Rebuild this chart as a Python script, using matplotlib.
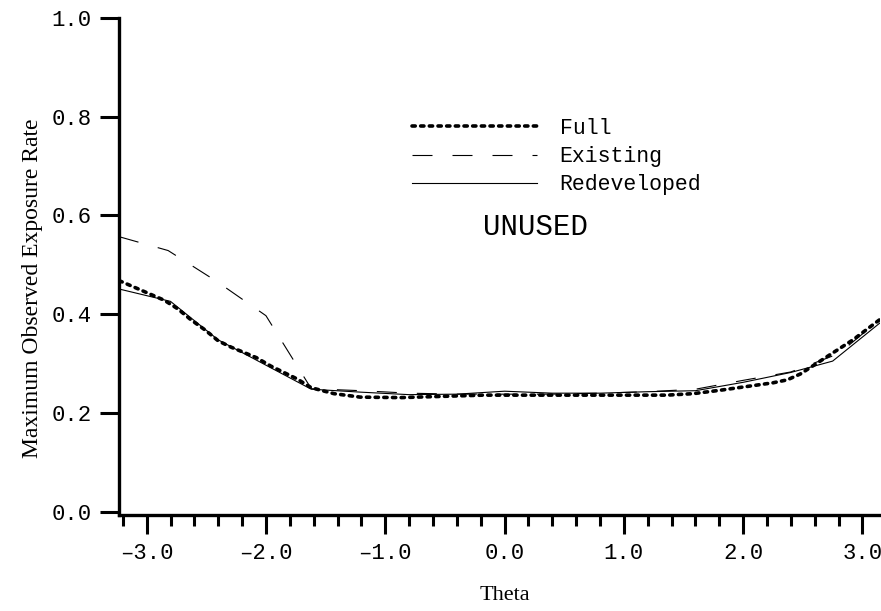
import matplotlib
matplotlib.use("Agg")
import matplotlib.pyplot as plt
from matplotlib.ticker import MultipleLocator

# values
full_theta = [-3.23, -2.85, -2.74, -2.63, -2.51, -2.40, -2.29, -2.18, -2.08, -1.96,
              -1.85, -1.74, -1.62, -1.43, -1.21, -0.87, -0.18, 0.39, 1.36, 1.58,
              1.81, 2.25, 2.37, 2.48, 2.69, 2.92, 3.15]
full_rate = [0.468, 0.428, 0.411, 0.389, 0.368, 0.346, 0.333, 0.322, 0.312, 0.295,
             0.282, 0.269, 0.251, 0.239, 0.232, 0.231, 0.236, 0.236, 0.236, 0.239,
             0.246, 0.261, 0.267, 0.279, 0.312, 0.348, 0.390]

exist_theta = [-3.23, -2.82, -2.41, -2.00, -1.62, -1.20, -0.80, -0.40, 0.00, 0.40,
               0.80, 1.20, 1.60, 2.00, 2.40, 2.80, 3.15]
exist_rate = [0.557, 0.529, 0.466, 0.397, 0.249, 0.245, 0.240, 0.238, 0.238, 0.238,
              0.240, 0.243, 0.248, 0.266, 0.283, 0.320, 0.390]

redev_theta = [-3.23, -2.80, -2.40, -1.62, -1.20, -0.80, -0.40, 0.00, 0.40, 0.80,
               1.20, 1.60, 2.00, 2.40, 2.75, 3.15]
redev_rate = [0.451, 0.426, 0.348, 0.248, 0.242, 0.237, 0.238, 0.244, 0.240, 0.240,
              0.243, 0.245, 0.262, 0.282, 0.305, 0.383]

labels = ["Full", "Existing", "Redeveloped"]

mono = "Liberation Mono"
serif = "Liberation Serif"

fig = plt.figure(figsize=(8.81, 6.11), dpi=100)
ax = fig.add_axes([0.1353, 0.157, 0.864, 0.8134])

ax.plot(full_theta, full_rate, color="black", lw=2.6, linestyle=(0, (0.9, 1.5)),
        dash_capstyle="round", label=labels[0])
ax.plot(exist_theta, exist_rate, color="black", lw=0.8, linestyle=(0, (18, 18)),
        label=labels[1])
ax.plot(redev_theta, redev_rate, color="black", lw=0.8, label=labels[2])

ax.set_xlim(-3.23, 3.15)
ax.set_ylim(-0.007, 1.0)

# axes look
for s in ["top", "right"]:
    ax.spines[s].set_visible(False)
ax.spines["left"].set_linewidth(2.4)
ax.spines["bottom"].set_linewidth(2.4)

ax.xaxis.set_major_locator(MultipleLocator(1.0))
ax.xaxis.set_minor_locator(MultipleLocator(0.2))
ax.yaxis.set_major_locator(MultipleLocator(0.2))
ax.tick_params(axis="x", which="major", length=14, width=2.2, pad=6)
ax.tick_params(axis="x", which="minor", length=8, width=2.2)
ax.tick_params(axis="y", which="major", length=14, width=2.2, pad=6)
ax.xaxis.set_major_formatter(plt.FuncFormatter(lambda v, p: "%.1f" % v if v >= 0 else "\u2013%.1f" % abs(v)))
ax.yaxis.set_major_formatter(plt.FuncFormatter(lambda v, p: "%.1f" % v))
for t in ax.get_xticklabels() + ax.get_yticklabels():
    t.set_fontfamily(mono)
    t.set_fontsize(16)

ax.set_xlabel("Theta", fontfamily=serif, fontsize=16)
ax.set_ylabel("Maximum Observed Exposure Rate", fontfamily=serif, fontsize=17)
ax.xaxis.set_label_coords(0.507, -0.142)
ax.yaxis.set_label_coords(-0.10, 0.457)

leg = ax.legend(loc="upper left", bbox_to_anchor=(0.385, 0.799), frameon=False,
                borderpad=0, borderaxespad=0, handlelength=5.8, handletextpad=1.05,
                labelspacing=0.33, prop={"family": mono, "size": 15.5})

ax.text(0.547, 0.58, "UNUSED", transform=ax.transAxes, fontfamily=mono, fontsize=21,
        ha="center", va="center")

fig.savefig("out.png", dpi=100)
